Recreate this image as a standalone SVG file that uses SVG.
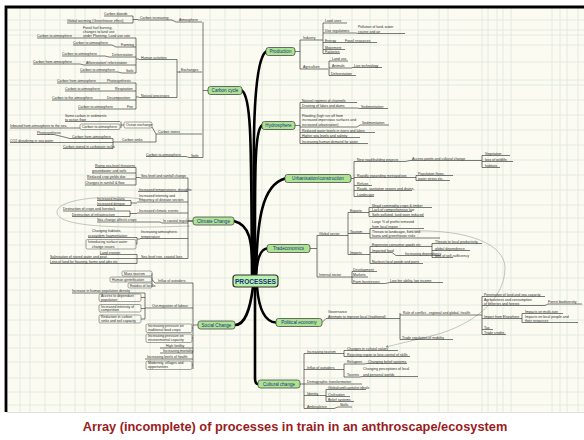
<svg xmlns="http://www.w3.org/2000/svg" width="584" height="440" viewBox="0 0 584 440">
  <defs>
    <style>
      .l{font-family:"Liberation Sans",Arial,sans-serif;font-size:3.5px;fill:#2a2a2a}
      .n{font-family:"Liberation Sans",Arial,sans-serif;font-size:4.6px;fill:#1c2c8c;text-anchor:middle}
      .u{fill:none;stroke:#333;stroke-width:.65;stroke-linejoin:round}
      .bx{fill:none;stroke:#4a4a4a;stroke-width:.5}
      .nd{fill:#ade491;stroke:#4a4a4a;stroke-width:.8}
      .tr{fill:none;stroke:#000;stroke-width:2.6;stroke-linecap:round}
      .grid{fill:none;stroke:#dde7dc;stroke-width:.8}
      .lasso{fill:none;stroke:#a0a0a0;stroke-width:.6}
    </style>
    <marker id="ah" viewBox="0 0 6 6" refX="5" refY="3" markerWidth="5" markerHeight="5" orient="auto">
      <path d="M0 0L6 3L0 6z" fill="#888"/>
    </marker>
  </defs>

  <!-- paper and frame -->
  <rect width="584" height="440" fill="#fff"/>
  <rect x="7" y="7" width="577" height="405" fill="#fbfbf1"/>
  <path class="grid" d="M20 8V412M30 8V412M45 8V412M60 8V412M75 8V412M85 8V412M100 8V412M118 8V412M135 8V412M150 8V412M165 8V412M180 8V412M192 8V412M210 8V412M225 8V412M240 8V412M262 8V412M280 8V412M300 8V412M318 8V412M330 8V412M352 8V412M370 8V412M388 8V412M400 8V412M418 8V412M439 8V412M448 8V412M482 8V412M488 8V412M497 8V412M503 8V412M511 8V412M552 8V412M560 8V412M567 8V412M578 8V412
    M8 20H584M8 30H584M8 35H584M8 45H584M8 62H584M8 80H584M8 85H584M8 100H584M8 115H584M8 130H584M8 145H584M8 160H584M8 175H584M8 190H584M8 205H584M8 218H584M8 232H584M8 245H584M8 262H584M8 278H584M8 290H584M8 305H584M8 320H584M8 335H584M8 348H584M8 362H584M8 378H584M8 392H584M8 405H584"/>
  <path d="M6 412V7H584" fill="none" stroke="#000" stroke-width="2.8"/>
  <line x1="6" y1="412.5" x2="584" y2="412.5" stroke="#d8d8d8" stroke-width=".8"/>

  <!-- main branches -->
  <g id="connectors">
    <path class="tr" d="M254 275C253 150 252 62 266 51.5"/>
    <path class="tr" d="M252 275C251 150 252 98 242 90.5"/>
    <path class="tr" d="M255 275C255 180 254 130 262 125.5"/>
    <path class="tr" d="M256 275C257 220 262 185 285 178.5"/>
    <path class="tr" d="M253 275C252 240 250 225 234 221"/>
    <path class="tr" d="M256 275C257 260 260 249 267 248.5"/>
    <path class="tr" d="M253 287C250 310 245 325 235 325"/>
    <path class="tr" d="M257 287C259 310 265 322 276 322.5"/>
    <path class="tr" d="M255 287V378Q255 384 258 384"/>
    <!-- cross links -->
    <path class="lasso" d="M143 199C100 194 55 200 57 213C59 226 110 229 190 226"/>
    <path class="lasso" marker-end="url(#ah)" d="M410 231C470 229 505 245 505 268C505 300 472 325 435 335L386 347"/>
  </g>

  <!-- Carbon cycle -->
  <g id="carbon-cycle">
    <path class="u" d="M104 16H133M67 23H133M133 16V23M133 19.5H138M138 20H172L176 22H202
      M37 38H136M73 45H112L116 47H136M62 56H105L109 57H136M33 64H80L84 65H136M80 72H118L122 73H136M136 38V73M136 59H139M139 59.5H177
      M57 83H136M65 91H136M52 100H136M78 109H136M136 83V109M136 97H139M139 97.5H177M177 59.5V97.5M177 72H180M179 72H202
      M65 121.5H120M10 128H80M121 121.5V128M121 125H124M152 127L156 134H202
      M37 134.5H54L70 138.5H113M10 142.5H113M63 148.5H113M113 138.5V148.5M113 142H120M120 142H156V134
      M146 156.5H186L189 157.5H203M203 22V157.5M203 90.5H208"/>
    <rect class="bx" x="80" y="124" width="40" height="5.5" rx="1.5"/>
    <rect class="bx" x="124" y="122" width="28" height="6" rx="1.5"/>
    <text class="l" x="104" y="15">Carbon dioxide</text>
    <text class="l" x="67" y="22">Global warming (Greenhouse effect)</text>
    <text class="l" x="140" y="19">Carbon increasing</text>
    <text class="l" x="179" y="21">Atmosphere</text>
    <text class="l" x="83" y="29">Fossil fuel burning,</text>
    <text class="l" x="83" y="33">changes to land use</text>
    <text class="l" x="83" y="37.3">under Planning, Land use rate</text>
    <text class="l" x="37" y="37">Carbon to atmosphere</text>
    <text class="l" x="73" y="44">Carbon to atmosphere</text>
    <text class="l" x="121" y="46">Farming</text>
    <text class="l" x="62" y="55">Carbon to atmosphere</text>
    <text class="l" x="112" y="56">Deforestation</text>
    <text class="l" x="33" y="63">Carbon from atmosphere</text>
    <text class="l" x="86" y="64">Afforestation/ reforestation</text>
    <text class="l" x="80" y="71">Carbon to atmosphere</text>
    <text class="l" x="126" y="72">Soils</text>
    <text class="l" x="141" y="58.5">Human activities</text>
    <text class="l" x="57" y="82">Carbon from atmosphere</text>
    <text class="l" x="107" y="82">Photosynthesis</text>
    <text class="l" x="65" y="90">Carbon to atmosphere</text>
    <text class="l" x="115" y="90">Respiration</text>
    <text class="l" x="52" y="99">Carbon to the atmosphere</text>
    <text class="l" x="107" y="99">Decomposition</text>
    <text class="l" x="78" y="108">Carbon to atmosphere</text>
    <text class="l" x="127" y="108">Fire</text>
    <text class="l" x="141" y="96.5">Natural processes</text>
    <text class="l" x="181" y="71">Exchanges</text>
    <text class="l" x="65" y="116.5">Some carbon in sediments</text>
    <text class="l" x="65" y="120.7">to ocean floor</text>
    <text class="l" x="10" y="127">Inbound from atmosphere to the sea</text>
    <text class="l" x="82" y="127.8">Carbon to atmosphere</text>
    <text class="l" x="126" y="126.4">Ocean exchange</text>
    <text class="l" x="158" y="133">Carbon stores</text>
    <text class="l" x="37" y="133.5">Photosynthesis</text>
    <text class="l" x="72" y="137.5">Carbon from atmosphere</text>
    <text class="l" x="10" y="141.5">CO2 dissolving in sea water</text>
    <text class="l" x="63" y="147.5">Carbon stored in carbonate rocks</text>
    <text class="l" x="122" y="141">Carbon sinks</text>
    <text class="l" x="146" y="155.5">Carbon to atmosphere</text>
    <text class="l" x="191" y="156.8">Soils</text>
    <rect class="nd" x="208" y="86.5" width="34" height="8" rx="2.5"/>
    <text class="n" x="225" y="92.2">Carbon cycle</text>
  </g>

  <!-- Climate change -->
  <g id="climate-change">
    <path class="u" d="M95 167.5H136M92 173H136M87 179H136M85 185H136M136 167.5V185M136 177.5H140M140 178H188
      M138 191.5H188M97 200.5H131M97 205.5H131M131 200.5V205.5M131 203H137M137 202H188
      M63 211H130M72 216.5H130M130 211V216.5M130 213.5H137M137 213H188M97 222H160L162 223H188
      M88 237.5H137M137 237.5V244M136 244H137M137 239H140M140 238.5H188
      M100 254.5H137M50 258.5H137M50 263.5H137M137 254.5V263.5M137 258.5H140M140 258.5H188
      M188 178V258.5M188 221H193"/>
    <rect class="bx" x="86" y="239.5" width="50" height="9.5" rx="1.5"/>
    <text class="l" x="95" y="166.5">Rising sea level threatens</text>
    <text class="l" x="92" y="172">groundwater and soils</text>
    <text class="l" x="87" y="178">Reduced crop yields due</text>
    <text class="l" x="85" y="184">Changes in rainfall &amp; flow</text>
    <text class="l" x="141" y="177">Sea level and rainfall change</text>
    <text class="l" x="139" y="190.5">Increased temperatures, droughts</text>
    <text class="l" x="97" y="199.5">Increased malaria</text>
    <text class="l" x="97" y="204.5">Increased dengue</text>
    <text class="l" x="139" y="196.5">Increased intensity and</text>
    <text class="l" x="139" y="200.8">frequency of disease vectors</text>
    <text class="l" x="63" y="210">Destruction of crops and livestock</text>
    <text class="l" x="72" y="215.5">Destruction of infrastructure</text>
    <text class="l" x="139" y="212">Increased climatic events</text>
    <text class="l" x="97" y="221">Sea change affects crops</text>
    <text class="l" x="163" y="222">In coastal regulations</text>
    <text class="l" x="92" y="231.5">Changing habitats,</text>
    <text class="l" x="88" y="236.5">ecosystem fragmentation</text>
    <text class="l" x="88" y="243">Introducing surface water</text>
    <text class="l" x="92" y="247.5">change issues</text>
    <text class="l" x="141" y="233">Increasing atmospheric</text>
    <text class="l" x="141" y="237.5">temperature</text>
    <text class="l" x="100" y="253.5">Land erosion</text>
    <text class="l" x="50" y="257.5">Salinisation of stored water and peat</text>
    <text class="l" x="50" y="262.5">Loss of land for housing, farms and jobs etc</text>
    <text class="l" x="141" y="257.5">Sea level rise, coastal loss</text>
    <rect class="nd" x="193" y="217" width="41" height="8" rx="2.5"/>
    <text class="n" x="213.5" y="222.6">Climate Change</text>
  </g>

  <!-- Social change -->
  <g id="social-change">
    <path class="u" d="M152 273.5V285.5M152 279.5L155 283H193
      M72 293H145M145 293V319M141 297.5H145M141 308.5H145M141 319H145M145 308H150M150 308H193
      M160 348H193M160 353H193M145 359H193M192 328H193M192 338H193M192 365H193
      M193 283V369M193 325H198"/>
    <rect class="bx" x="122" y="271" width="30" height="5" rx="1.5"/>
    <rect class="bx" x="110" y="277" width="42" height="5" rx="1.5"/>
    <rect class="bx" x="128" y="283" width="24" height="5" rx="1.5"/>
    <rect class="bx" x="99" y="294" width="42" height="7.5" rx="1.5"/>
    <rect class="bx" x="99" y="304.5" width="42" height="7.5" rx="1.5"/>
    <rect class="bx" x="99" y="315" width="42" height="8" rx="1.5"/>
    <rect class="bx" x="146" y="324" width="46" height="8.5" rx="1.5"/>
    <rect class="bx" x="146" y="334" width="46" height="8.5" rx="1.5"/>
    <rect class="bx" x="146" y="361" width="46" height="8.5" rx="1.5"/>
    <text class="l" x="124" y="274.8">Mass tourism</text>
    <text class="l" x="112" y="280.8">Human gentrification</text>
    <text class="l" x="130" y="286.8">Exodus of locals</text>
    <text class="l" x="158" y="282">Influx of outsiders</text>
    <text class="l" x="72" y="292">Increase in human population density</text>
    <text class="l" x="101" y="297.2">Access to dependant</text>
    <text class="l" x="101" y="300.8">population</text>
    <text class="l" x="101" y="307.7">Increased intensity of</text>
    <text class="l" x="101" y="311.3">competition</text>
    <text class="l" x="101" y="318.3">Reduction in carbon</text>
    <text class="l" x="101" y="322">sinks and soil capacity</text>
    <text class="l" x="152" y="307">Out-migration of labour</text>
    <text class="l" x="148" y="327.4">Increasing pressure on</text>
    <text class="l" x="148" y="331.2">traditional food crops</text>
    <text class="l" x="148" y="337.4">Increasing pressure on</text>
    <text class="l" x="148" y="341.2">environmental capacity</text>
    <text class="l" x="166" y="347">High fertility</text>
    <text class="l" x="163" y="352">Increasing mortality</text>
    <text class="l" x="147" y="358">Increasing levels of health</text>
    <text class="l" x="148" y="364.4">Modernity, villages and</text>
    <text class="l" x="148" y="368.2">opportunities</text>
    <rect class="nd" x="198" y="321" width="37" height="8" rx="2.5"/>
    <text class="n" x="216.5" y="326.6">Social Change</text>
  </g>

  <!-- Production -->
  <g id="production">
    <path class="u" d="M295 51.5H300M300 40V69M300 40H322M322 40H323M323 23V53.5
      M323 23H347M323 33H356L358 33.5H405M323 42.5H377M323 49.5H345M323 53.5H340
      M300 69H328M329 61V75.5M329 61H348M329 68H352M352 67.5H382M329 75.5H356"/>
    <text class="l" x="303" y="39">Industry</text>
    <text class="l" x="325" y="22">Land uses</text>
    <text class="l" x="325" y="32">Use regulations</text>
    <text class="l" x="358" y="28">Pollution of land, water</text>
    <text class="l" x="358" y="32.5">course and air</text>
    <text class="l" x="325" y="41.5">Energy</text>
    <text class="l" x="345" y="41.5">Fossil resources</text>
    <text class="l" x="325" y="48.5">Movement</text>
    <text class="l" x="325" y="52.5">Factories</text>
    <text class="l" x="303" y="68">Agriculture</text>
    <text class="l" x="332" y="60">Land use</text>
    <text class="l" x="332" y="67">Animals</text>
    <text class="l" x="354" y="66.5">Live technology</text>
    <text class="l" x="331" y="74.5">Deforestation</text>
    <rect class="nd" x="266" y="47.5" width="29" height="8" rx="2.5"/>
    <text class="n" x="280.5" y="53.1">Production</text>
  </g>

  <!-- Hydrosphere -->
  <g id="hydrosphere">
    <path class="u" d="M295 125.5H300M300 102.5V143.5M300 102.5H357M300 108H357L360 108.5H388
      M300 127H357L360 125H389M300 132.5H375M300 137.5H360M300 143.5H368"/>
    <text class="l" x="302" y="101.5">Natural regimes of channels</text>
    <text class="l" x="302" y="107">Draining of lakes and dams</text>
    <text class="l" x="361" y="107.5">Sedimentation</text>
    <text class="l" x="302" y="116.5">Flooding (high run off from</text>
    <text class="l" x="302" y="121">increased impervious surfaces and</text>
    <text class="l" x="302" y="125.5">increased urbanisation)</text>
    <text class="l" x="362" y="124">Sedimentation</text>
    <text class="l" x="302" y="131.5">Reduced water levels in rivers and lakes</text>
    <text class="l" x="302" y="136.5">Higher sea levels and salinity</text>
    <text class="l" x="302" y="142.5">Increasing human demand for water</text>
    <rect class="nd" x="262" y="121.5" width="33" height="8" rx="2.5"/>
    <text class="n" x="278.5" y="127.1">Hydrosphere</text>
  </g>

  <!-- Urbanisation / construction -->
  <g id="urbanisation">
    <path class="u" d="M351 178.5H354M354 161.5V196.5M354 161.5H405L410 160.5H482M482 155.5V167.5
      M482 155.5H510M482 161.5H513M482 167.5H500
      M354 177.5H416M416 175.5V180.5M416 175.5H453M416 180.5H450
      M354 185.5H372M354 190.5H412M354 196.5H374"/>
    <text class="l" x="357" y="160.5">New road/building projects</text>
    <text class="l" x="412" y="159.5">Access points and cultural change</text>
    <text class="l" x="485" y="154.5">Vegetation</text>
    <text class="l" x="485" y="160.5">loss of wildlife,</text>
    <text class="l" x="485" y="166.5">habitats</text>
    <text class="l" x="357" y="176.5">Rapidly expanding metropolises</text>
    <text class="l" x="418" y="174.5">Population flows,</text>
    <text class="l" x="418" y="179.5">water stress etc.</text>
    <text class="l" x="357" y="184.5">Refuse,</text>
    <text class="l" x="357" y="189.5">Roads, sanitation sewers and drains,</text>
    <text class="l" x="357" y="195.5">Landscape</text>
    <rect class="nd" x="285" y="174.5" width="66" height="8" rx="2.5"/>
    <text class="n" x="318" y="180.1">Urbanisation/construction</text>
  </g>

  <!-- Tradeconomics -->
  <g id="tradeconomics">
    <path class="u" d="M310 248.5H317M317 235.5V277M317 235.5H348M348 212.5V254.5
      M348 212.5H369M369 207.5V216.5M369 207.5H432M369 211.5H412M369 216.5H424
      M348 233.5H370M370 228.5V238M370 228.5H424M370 238H440
      M348 254.5H370M370 246.5V263.5M370 246.5H432M432 243.5V257.5M432 243.5H482M432 250.5H470M432 257.5H453
      M370 252.5H392L396 255.5H440M370 263.5H423
      M317 277H352M352 271.5V283.5M352 271.5H377M352 277H368M352 283.5H385L390 282.5H443"/>
    <text class="l" x="319" y="234.5">Global sector</text>
    <text class="l" x="350" y="211.5">Exports</text>
    <text class="l" x="372" y="206.5">Illegal commodity crops &amp; timber</text>
    <text class="l" x="372" y="210.5">Lack of comprehensive law</text>
    <text class="l" x="372" y="215.5">Soils polluted, land soon reduced</text>
    <text class="l" x="350" y="232.5">Tourism</text>
    <text class="l" x="372" y="222.5">Large % of profits removed</text>
    <text class="l" x="372" y="227.5">from local region</text>
    <text class="l" x="372" y="232.5">Threats to landscape, flora and</text>
    <text class="l" x="372" y="237">fauna and greenhouse risks</text>
    <text class="l" x="350" y="253.5">Imports</text>
    <text class="l" x="372" y="245.5">Expensive consumer goods etc</text>
    <text class="l" x="435" y="242.5">Threats to local productivity,</text>
    <text class="l" x="435" y="249.5">global dependence,</text>
    <text class="l" x="435" y="256.5">loss of self-sufficiency</text>
    <text class="l" x="372" y="251.5">Imported food</text>
    <text class="l" x="405" y="254.5">Increasing dependency</text>
    <text class="l" x="372" y="262.5">Nucleus local goods and parts</text>
    <text class="l" x="319" y="276">Internal sector</text>
    <text class="l" x="353" y="270.5">Development</text>
    <text class="l" x="353" y="276">Markets</text>
    <text class="l" x="353" y="282.5">Farm businesses</text>
    <text class="l" x="390" y="281.5">Low fee ability, low income</text>
    <rect class="nd" x="267" y="244.5" width="43" height="8" rx="2.5"/>
    <text class="n" x="288.5" y="250.1">Tradeconomics</text>
  </g>

  <!-- Central topic -->
  <g id="processes">
    <rect x="233" y="275" width="45" height="12" rx="3" fill="#b9f2a6" stroke="#333" stroke-width="1.2"/>
    <text x="255.5" y="283.6" text-anchor="middle" font-family="Liberation Sans, Arial, sans-serif" font-size="6.6" font-weight="bold" fill="#1b2f8a">PROCESSES</text>
  </g>

  <!-- Political economy -->
  <g id="political-economy">
    <path class="u" d="M322 322.5L326 318.5H400M400 313V339.5M400 315H482M482 296.5V334.5
      M482 296.5H545M482 305.5H545L548 304H582M482 318.5H522M522 313.5V322.5M522 313.5H563M522 322.5H578
      M482 329.5H493M482 334.5H506M400 339.5H453"/>
    <text class="l" x="328" y="312.5">Governance</text>
    <text class="l" x="328" y="317.5">Attempts to improve local (traditional)</text>
    <text class="l" x="403" y="314">Rule of conflict - regional and global, health</text>
    <text class="l" x="484" y="295.5">Penetration of land and sea capacity</text>
    <text class="l" x="484" y="300.5">Agribusiness and consumption</text>
    <text class="l" x="484" y="304.5">of fisheries and forests</text>
    <text class="l" x="548" y="303">Forest biodiversity</text>
    <text class="l" x="484" y="317.5">Import from Elsewhere</text>
    <text class="l" x="525" y="312.5">Impacts on multi-size</text>
    <text class="l" x="525" y="317.5">Impacts on local people and</text>
    <text class="l" x="525" y="321.5">their resources</text>
    <text class="l" x="484" y="328.5">Tax</text>
    <text class="l" x="484" y="333.5">Trade credits</text>
    <text class="l" x="402" y="338.5">Trade regulation of mobility</text>
    <rect class="nd" x="276" y="318.5" width="46" height="8" rx="2.5"/>
    <text class="n" x="299" y="324.1">Political economy</text>
  </g>

  <!-- Cultural change -->
  <g id="cultural-change">
    <path class="u" d="M300 384H304M304 353.5V408.5M304 353.5H344M344 350.5V356.5M344 350.5H398M344 356.5H410
      M304 369.5H344M344 364V377M344 364H364L367 363.5H407M344 377H360L362 376.5H418
      M304 384H362M304 395.5H326M326 389.5V401.5M326 389.5H366M326 396.5H350M326 401.5H354
      M304 408.5H334L338 407H352"/>
    <text class="l" x="307" y="352.5">Increasing tourism</text>
    <text class="l" x="347" y="349.5">Changes in cultural values</text>
    <text class="l" x="347" y="355.5">Rejecting region to lose control of skills</text>
    <text class="l" x="307" y="368.5">Influx of outsiders</text>
    <text class="l" x="347" y="363">Refugees</text>
    <text class="l" x="368" y="362.5">Changing belief systems</text>
    <text class="l" x="347" y="376">Tourists</text>
    <text class="l" x="363" y="370">Changing perceptions of local</text>
    <text class="l" x="363" y="375.5">and personal worlds</text>
    <text class="l" x="307" y="383">Demographic transformation</text>
    <text class="l" x="307" y="394.5">Identity</text>
    <text class="l" x="328" y="388.5">Globalised/capitalist ideals</text>
    <text class="l" x="328" y="395.5">Civilisation</text>
    <text class="l" x="328" y="400.5">Belief systems</text>
    <text class="l" x="307" y="407.5">Ambivalence</text>
    <text class="l" x="340" y="406">Skills</text>
    <rect class="nd" x="258" y="380" width="42" height="8" rx="2.5"/>
    <text class="n" x="279" y="385.6">Cultural change</text>
  </g>

  <!-- caption -->
  <text x="295" y="431" text-anchor="middle" font-family="Liberation Sans, Arial, sans-serif" font-size="12.8" font-weight="bold" fill="#9b1c1c">Array (incomplete) of processes in train in an anthroscape/ecosystem</text>
</svg>
